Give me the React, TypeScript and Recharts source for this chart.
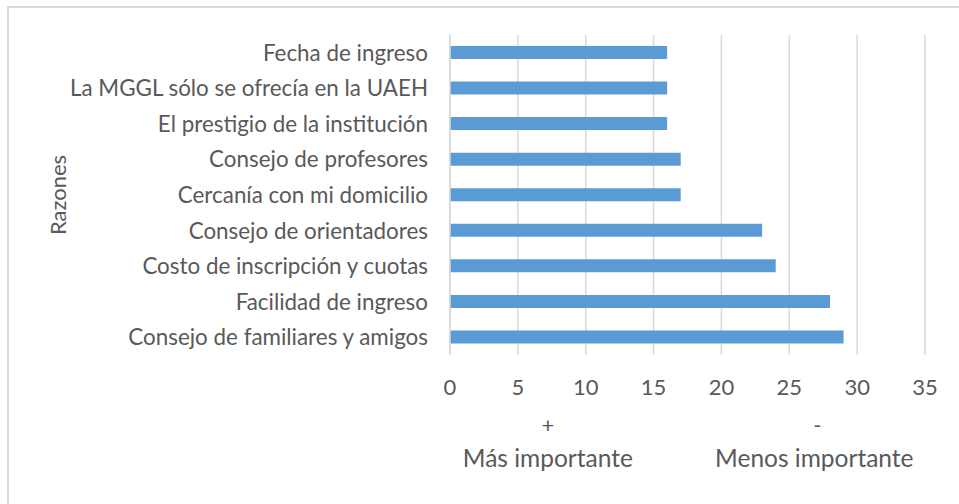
import { BarChart, Bar, XAxis, YAxis, CartesianGrid } from 'recharts'

const reasons = [
  'Fecha de ingreso',
  'La MGGL sólo se ofrecía en la UAEH',
  'El prestigio de la institución',
  'Consejo de profesores',
  'Cercanía con mi domicilio',
  'Consejo de orientadores',
  'Costo de inscripción y cuotas',
  'Facilidad de ingreso',
  'Consejo de familiares y amigos',
]
const scores = [16, 16, 16, 17, 17, 23, 24, 28, 29]
const xTicks = [0, 5, 10, 15, 20, 25, 30, 35]

const data = reasons.map((r, i) => ({ name: r, value: scores[i] }))

const FONT = 'Lato, "Open Sans", sans-serif'
const TEXT = '#595959'
const GRID = '#d9d9d9'

function ImportanceLabel(props: any) {
  const { x, y, width } = props.viewBox
  const left = x + width * 0.206
  const right = x + width * 0.767
  const style = { fontSize: 24.5, fill: TEXT, fontFamily: FONT }
  return (
    <g>
      <text x={left} y={y + 78} textAnchor="middle" style={{ ...style, fontSize: 22 }}>+</text>
      <text x={left} y={y + 112} textAnchor="middle" style={style}>Más importante</text>
      <text x={right + 3} y={y + 78} textAnchor="middle" style={{ ...style, fontSize: 22 }}>-</text>
      <text x={right} y={y + 112} textAnchor="middle" style={style}>Menos importante</text>
    </g>
  )
}

export default function App() {
  return (
    <div style={{ position: 'relative', width: 959, height: 504, background: '#fff' }}>
      <style>{'body{margin:0}'}</style>
      <div
        style={{
          position: 'absolute', left: 7, top: 6, right: 0, bottom: 0,
          borderTop: `2px solid ${GRID}`, borderLeft: `2px solid ${GRID}`,
        }}
      />
      <BarChart
        width={959}
        height={504}
        data={data}
        layout="vertical"
        margin={{ top: 35, right: 34, left: 8, bottom: 9 }}
        barSize={13}
        style={{ position: 'absolute', left: 0, top: 0 }}
      >
        <CartesianGrid horizontal={false} vertical stroke={GRID} strokeWidth={1.5} />
        <XAxis
          type="number"
          domain={[0, 35]}
          ticks={xTicks}
          axisLine={false}
          tickLine={false}
          tickSize={0}
          tickMargin={24}
          height={140}
          tick={{ fontSize: 22, fill: TEXT, fontFamily: FONT }}
          label={<ImportanceLabel />}
        />
        <YAxis
          type="category"
          dataKey="name"
          width={442}
          axisLine={{ stroke: GRID, strokeWidth: 1.5 }}
          tickLine={false}
          tickSize={0}
          tickMargin={22}
          interval={0}
          tick={{ fontSize: 22.4, fill: TEXT, fontFamily: FONT }}
          label={{
            value: 'Razones', angle: -90, position: 'insideLeft', offset: 50,
            style: { fontSize: 22, fill: TEXT, fontFamily: FONT, textAnchor: 'middle' },
          }}
        />
        <Bar dataKey="value" fill="#5b9bd5" isAnimationActive={false} />
      </BarChart>
    </div>
  )
}
